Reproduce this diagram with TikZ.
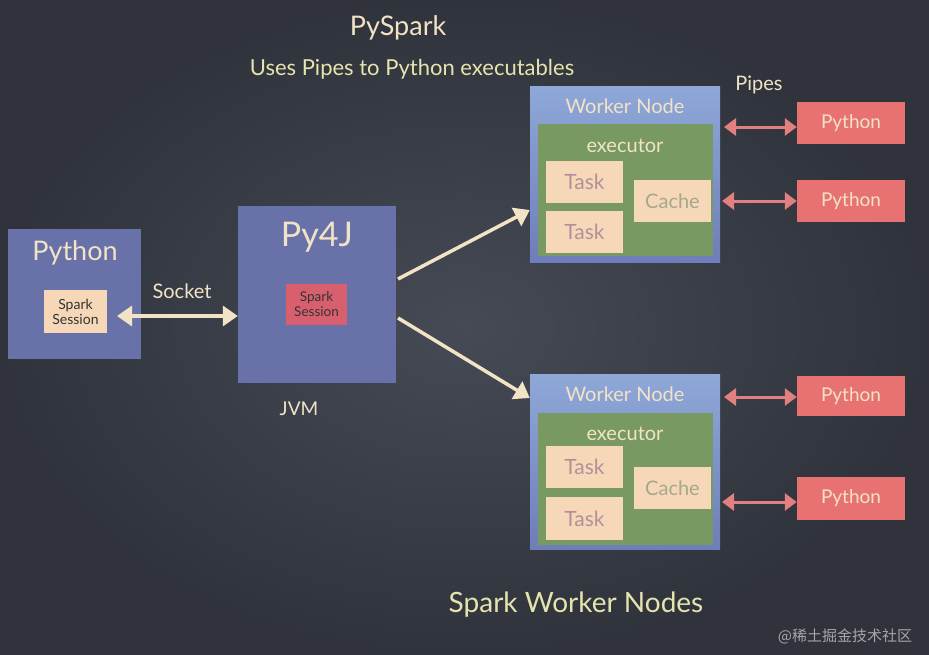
\documentclass[tikz,border=0pt]{standalone}
\usepackage{fontspec}
\setmainfont{Lato}
\usetikzlibrary{arrows.meta}
\newfontfamily\cjkfont{Noto Sans CJK SC}
\definecolor{bgc}{HTML}{383C46}
\definecolor{bgl}{HTML}{454A55}
\definecolor{chalk}{HTML}{F2E3C6}
\definecolor{chalky}{HTML}{E6E4AE}
\definecolor{slate}{HTML}{6872A8}
\definecolor{wtop}{HTML}{8EA8D8}
\definecolor{wbot}{HTML}{6E7EB8}
\definecolor{exgreen}{HTML}{789A62}
\definecolor{peach}{HTML}{F6D8B8}
\definecolor{rosy}{HTML}{D8606E}
\definecolor{salmon}{HTML}{E87272}
\definecolor{pipec}{HTML}{E28080}
\definecolor{taskc}{HTML}{B0909A}
\definecolor{cachec}{HTML}{A4A88E}
\tikzset{
  bigbox/.style={fill=slate, inner sep=0pt},
  peachbox/.style={fill=peach, inner sep=0pt},
  wbox/.style={top color=wtop, bottom color=wbot, inner sep=0pt, minimum width=190pt},
  taskbox/.style={peachbox, minimum width=77pt, text=taskc, font=\fontsize{21}{24}\selectfont},
  cachebox/.style={peachbox, minimum width=77pt, minimum height=42pt, text=cachec, font=\fontsize{20}{24}\selectfont},
  pybox/.style={fill=salmon, inner sep=0pt, minimum width=108pt, text=chalk, font=\fontsize{19}{22}\selectfont},
  carrow/.style={draw=chalk, line width=3.5pt, {Triangle[length=15pt,width=20pt]}-{Triangle[length=15pt,width=20pt]}},
  sarrow/.style={draw=chalk, line width=3.5pt, -{Triangle[length=15pt,width=20pt]}},
  parrow/.style={draw=pipec, line width=3pt, {Triangle[length=12pt,width=17pt]}-{Triangle[length=12pt,width=17pt]}},
}
\begin{document}
\begin{tikzpicture}[x=1pt,y=-1pt]
\useasboundingbox (0,0) rectangle (929,654);
\shade[inner color=bgl, outer color=bgc!85!black] (0,0) rectangle (929,654);
% titles
\node[text=chalk, font=\fontsize{27}{30}\selectfont] (title) at (398,28) {PySpark};
\node[text=chalky, font=\fontsize{22}{26}\selectfont] (sub) at (412,69) {Uses Pipes to Python executables};
% Python client
\node[bigbox, minimum width=133pt, minimum height=130pt] (pyc) at (74.5,294) {};
\node[text=chalk, font=\fontsize{27}{30}\selectfont] (pyclab) at (75,253) {Python};
\node[peachbox, minimum width=63pt, minimum height=43pt, align=center, font=\fontsize{14}{15}\selectfont, text=black!80] (ss1) at (75.5,311.5) {Spark\\Session};
\node[text=chalk, font=\fontsize{20}{23}\selectfont] (sock) at (182,291) {Socket};
% Py4J
\node[bigbox, minimum width=158pt, minimum height=177pt] (py4j) at (317,294.5) {};
\node[text=chalk, font=\fontsize{34}{38}\selectfont] (py4jlab) at (317,237) {Py4J};
\node[fill=rosy, inner sep=0pt, minimum width=61pt, minimum height=41pt, align=center, font=\fontsize{13.5}{15}\selectfont, text=black!80] (ss2) at (316.5,304.5) {Spark\\Session};
\node[text=chalk, font=\fontsize{19}{22}\selectfont] (jvm) at (299,409) {JVM};
% Worker 1
\node[wbox, minimum height=176pt] (w1) at (625,174) {};
\node[text=chalk, font=\fontsize{20}{23}\selectfont] (w1lab) at (625,106) {Worker Node};
\node[fill=exgreen, inner sep=0pt, minimum width=175pt, minimum height=132pt] (e1) at (625.5,190) {};
\node[text=chalk, font=\fontsize{20}{23}\selectfont] (e1lab) at (625,146) {executor};
\node[taskbox, minimum height=42pt] (t11) at (584.5,182) {Task};
\node[taskbox, minimum height=42pt] (t12) at (584.5,232) {Task};
\node[cachebox] (c1) at (672.5,201) {Cache};
% Worker 2
\node[wbox, minimum height=175pt] (w2) at (625,461.5) {};
\node[text=chalk, font=\fontsize{20}{23}\selectfont] (w2lab) at (625,394) {Worker Node};
\node[fill=exgreen, inner sep=0pt, minimum width=175pt, minimum height=132pt] (e2) at (625.5,479) {};
\node[text=chalk, font=\fontsize{20}{23}\selectfont] (e2lab) at (625,434) {executor};
\node[taskbox, minimum height=42pt] (t21) at (584.5,467) {Task};
\node[taskbox, minimum height=43pt] (t22) at (584.5,518.5) {Task};
\node[cachebox] (c2) at (672.5,488) {Cache};
% Python executables
\node[pybox, minimum height=42pt] (p1) at (851,123) {Python};
\node[pybox, minimum height=42pt] (p2) at (851,201) {Python};
\node[pybox, minimum height=40pt] (p3) at (851,396) {Python};
\node[pybox, minimum height=43pt] (p4) at (851,498.5) {Python};
\node[text=chalk, font=\fontsize{20}{23}\selectfont] (pipes) at (759,85) {Pipes};
% connectors
\coordinate (pa1) at (724,127);
\coordinate (pa2) at (722,201);
\coordinate (pa3) at (724,397);
\coordinate (pa4) at (722,502);
\draw[parrow] (pa1) -- (p1.west |- pa1);
\draw[parrow] (pa2) -- (p2.west |- pa2);
\draw[parrow] (pa3) -- (p3.west |- pa3);
\draw[parrow] (pa4) -- (p4.west |- pa4);
\coordinate (sa) at (117,316);
\draw[carrow] (sa) -- (py4j.west |- sa);
\coordinate (o1) at (398,279);
\coordinate (o2) at (398,318);
\coordinate (i1) at (530,210);
\coordinate (i2) at (530,398);
\draw[sarrow] (o1) -- (w1.west |- i1);
\draw[sarrow] (o2) -- (w2.west |- i2);
% footer
\node[text=chalky, font=\fontsize{28}{32}\selectfont] (foot) at (576,605) {Spark Worker Nodes};
\node[text=gray!70, font=\cjkfont\fontsize{15}{18}\selectfont] (wm) at (845,636) {@稀土掘金技术社区};
\end{tikzpicture}
\end{document}
